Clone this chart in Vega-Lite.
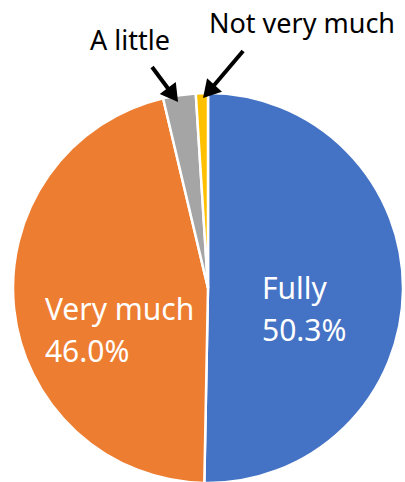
{
  "$schema": "https://vega.github.io/schema/vega-lite/v6.json",
  "width": 390,
  "height": 390,
  "autosize": {"type": "none"},
  "padding": {"left": 13, "top": 93, "right": 2, "bottom": 0},
  "background": "white",
  "config": {"view": {"stroke": null}},
  "datasets": {
    "slices": [
      {"cat": "Fully", "value": 50.3, "idx": 1, "lbl": "Fully\n50.3%"},
      {"cat": "Very much", "value": 46.0, "idx": 2, "lbl": "Very much\n46.0%"},
      {"cat": "A little", "value": 2.7, "idx": 3, "lbl": "A little"},
      {"cat": "Not very much", "value": 1.0, "idx": 4, "lbl": "Not very much"}
    ],
    "callouts": [
      {"t": "A little", "x": -0.4, "y": 1.2615},
      {"t": "Not very much", "x": 0.482, "y": 1.35}
    ],
    "arrows": [
      {"t": "A little", "x": -0.287, "y": 1.133, "x2": -0.18, "y2": 0.99},
      {"t": "Not very much", "x": 0.18, "y": 1.215, "x2": 0.004, "y2": 1.008}
    ]
  },
  "layer": [
    {
      "data": {"name": "slices"},
      "mark": {"type": "arc", "radius": 195, "stroke": "white", "strokeWidth": 2.5},
      "encoding": {
        "theta": {"field": "value", "type": "quantitative", "stack": true},
        "order": {"field": "idx", "type": "quantitative"},
        "color": {
          "field": "cat",
          "type": "nominal",
          "scale": {
            "domain": ["Fully", "Very much", "A little", "Not very much"],
            "range": ["#4472C4", "#ED7D31", "#A5A5A5", "#FFC000"]
          },
          "legend": null
        }
      }
    },
    {
      "data": {"name": "slices"},
      "mark": {"type": "text", "radius": 54, "dy": 10, "align": "left", "baseline": "alphabetic", "font": "Noto Sans", "fontSize": 30, "lineHeight": 42, "lineBreak": "\n", "color": "white"},
      "encoding": {
        "theta": {"field": "value", "type": "quantitative", "stack": true},
        "order": {"field": "idx", "type": "quantitative"},
        "detail": {"field": "cat", "type": "nominal"},
        "text": {"condition": {"test": "datum.cat === 'Fully'", "field": "lbl", "type": "nominal"}, "value": ""}
      }
    },
    {
      "data": {"name": "slices"},
      "mark": {"type": "text", "radius": 164, "dy": 15, "align": "left", "baseline": "alphabetic", "font": "Noto Sans", "fontSize": 30, "lineHeight": 42, "lineBreak": "\n", "color": "white"},
      "encoding": {
        "theta": {"field": "value", "type": "quantitative", "stack": true},
        "order": {"field": "idx", "type": "quantitative"},
        "detail": {"field": "cat", "type": "nominal"},
        "text": {"condition": {"test": "datum.cat === 'Very much'", "field": "lbl", "type": "nominal"}, "value": ""}
      }
    },
    {
      "data": {"name": "callouts"},
      "mark": {"type": "text", "align": "center", "baseline": "middle", "font": "Noto Sans", "fontSize": 27, "color": "black"},
      "encoding": {
        "x": {"field": "x", "type": "quantitative", "scale": {"domain": [-1, 1], "nice": false, "zero": false}, "axis": null},
        "y": {"field": "y", "type": "quantitative", "scale": {"domain": [-1, 1], "nice": false, "zero": false}, "axis": null},
        "text": {"field": "t", "type": "nominal"}
      }
    },
    {
      "data": {"name": "arrows"},
      "mark": {"type": "rule", "strokeWidth": 4, "color": "black"},
      "encoding": {
        "x": {"field": "x", "type": "quantitative"},
        "y": {"field": "y", "type": "quantitative"},
        "x2": {"field": "x2"},
        "y2": {"field": "y2"}
      }
    },
    {
      "data": {"name": "arrows"},
      "transform": [{"filter": "datum.t === 'A little'"}],
      "mark": {"type": "point", "shape": "triangle-up", "filled": true, "size": 400, "color": "black", "opacity": 1, "angle": 143.4},
      "encoding": {
        "x": {"field": "x2", "type": "quantitative"},
        "y": {"field": "y2", "type": "quantitative"}
      }
    },
    {
      "data": {"name": "arrows"},
      "transform": [{"filter": "datum.t === 'Not very much'"}],
      "mark": {"type": "point", "shape": "triangle-up", "filled": true, "size": 400, "color": "black", "opacity": 1, "angle": 221.7},
      "encoding": {
        "x": {"field": "x2", "type": "quantitative"},
        "y": {"field": "y2", "type": "quantitative"}
      }
    }
  ]
}
